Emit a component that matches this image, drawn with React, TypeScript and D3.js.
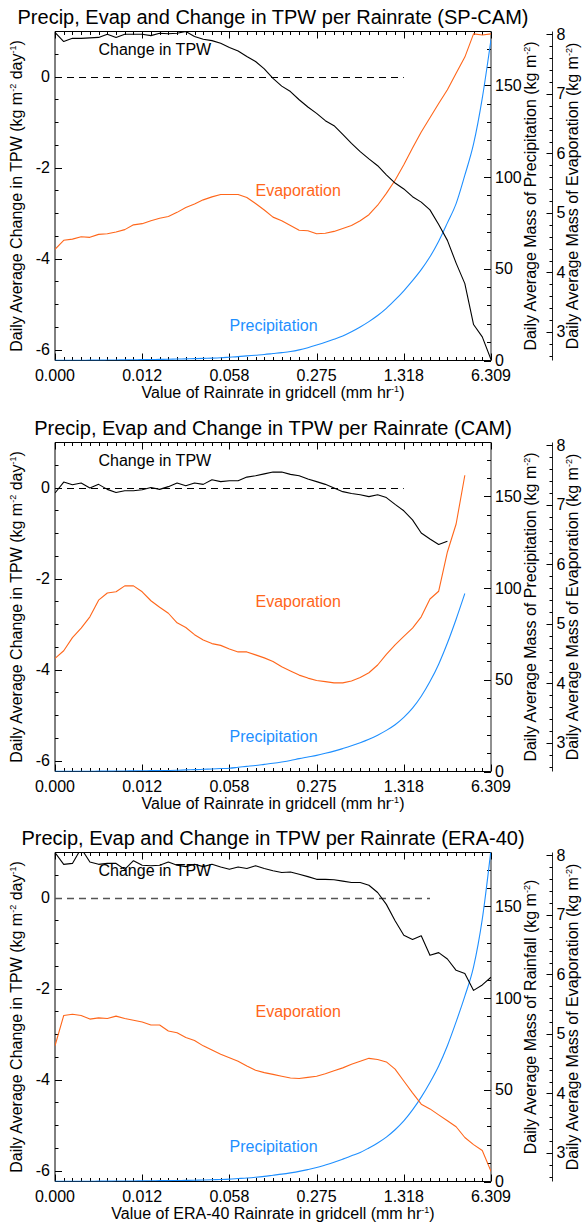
import React from "react";
import * as d3 from "d3";

const W = 583;
const H = 1224;
const FONT = "'Liberation Sans', Arial, Helvetica, sans-serif";
const ORANGE = "#ff661a";
const BLUE = "#1e8fff";

// ---------- data ----------
const xTickLabels = ["0.000", "0.012", "0.058", "0.275", "1.318", "6.309"];
const binCount = 50;
const tpwTicks = [-6, -4, -2, 0];
const precipTicks = [0, 50, 100, 150];
const evapTicks = [3, 4, 5, 6, 7, 8];

const titles = [
  "Precip, Evap and Change in TPW per Rainrate (SP-CAM)",
  "Precip, Evap and Change in TPW per Rainrate (CAM)",
  "Precip, Evap and Change in TPW per Rainrate (ERA-40)",
];
const xTitles = [
  "Value of Rainrate in gridcell (mm hr",
  "Value of Rainrate in gridcell (mm hr",
  "Value of ERA-40 Rainrate in gridcell (mm hr",
];
const precipTitles = [
  "Daily Average Mass of Precipitation (kg m",
  "Daily Average Mass of Precipitation (kg m",
  "Daily Average Mass of Rainfall (kg m",
];
const zeroLineEnd = [40, 40, 43];

const spcamTPW = [0.97, 0.77, 0.84, 0.84, 0.85, 0.86, 0.93, 0.86, 0.93, 0.93,
  0.93, 0.9, 0.95, 0.94, 0.95, 0.99, 0.88, 0.82, 0.79, 0.73,
  0.64, 0.56, 0.44, 0.33, 0.17, -0.04, -0.21, -0.33, -0.51, -0.67,
  -0.81, -0.97, -1.08, -1.27, -1.47, -1.65, -1.81, -1.96, -2.16, -2.34,
  -2.47, -2.64, -2.76, -2.93, -3.25, -3.6, -4.1, -4.55, -5.45, -5.72, -6.22];
const camTPW = [-0.12, 0.12, 0.06, 0.1, -0.01, 0.07, -0.04, -0.11, -0.07, -0.07,
  -0.05, 0.0, -0.04, 0.02, 0.1, 0.04, 0.1, 0.07, 0.17, 0.13,
  0.15, 0.15, 0.23, 0.26, 0.3, 0.34, 0.34, 0.29, 0.26, 0.19,
  0.13, 0.07, -0.01, -0.09, -0.13, -0.16, -0.2, -0.16, -0.22, -0.37,
  -0.51, -0.71, -1.0, -1.13, -1.25, -1.18];
const eraTPW = [0.99, 0.73, 0.75, 1.08, 0.78, 0.73, 0.75, 0.75, 0.62, 0.81,
  0.71, 0.7, 0.71, 0.78, 0.71, 0.68, 0.73, 0.68, 0.73, 0.67,
  0.62, 0.67, 0.64, 0.7, 0.64, 0.59, 0.55, 0.56, 0.51, 0.46,
  0.4, 0.4, 0.39, 0.36, 0.33, 0.33, 0.27, 0.11, -0.15, -0.51,
  -0.83, -0.92, -0.84, -1.27, -1.21, -1.35, -1.6, -1.67, -2.04, -1.92, -1.75];

const spcamEvap = [4.39, 4.54, 4.56, 4.6, 4.59, 4.64, 4.65, 4.68, 4.72, 4.8,
  4.82, 4.87, 4.91, 4.94, 5.01, 5.09, 5.15, 5.22, 5.27, 5.31,
  5.31, 5.31, 5.26, 5.16, 5.05, 4.93, 4.87, 4.79, 4.71, 4.7,
  4.65, 4.66, 4.69, 4.74, 4.79, 4.87, 4.97, 5.13, 5.33, 5.55,
  5.81, 6.09, 6.36, 6.6, 6.84, 7.07, 7.35, 7.62, 8.01, 7.99, 8.01];
const camEvap = [4.42, 4.55, 4.77, 4.93, 5.12, 5.4, 5.52, 5.54, 5.64, 5.64,
  5.54, 5.39, 5.28, 5.18, 5.02, 4.94, 4.82, 4.73, 4.67, 4.64,
  4.58, 4.53, 4.53, 4.48, 4.43, 4.37, 4.28, 4.21, 4.14, 4.09,
  4.05, 4.03, 4.01, 4.01, 4.04, 4.1, 4.18, 4.31, 4.49, 4.65,
  4.79, 4.93, 5.12, 5.42, 5.55, 6.21, 6.68, 7.5];
const eraEvap = [4.8, 5.31, 5.33, 5.31, 5.25, 5.27, 5.26, 5.3, 5.26, 5.23,
  5.2, 5.15, 5.15, 5.05, 5.02, 4.94, 4.89, 4.8, 4.73, 4.66,
  4.6, 4.54, 4.46, 4.39, 4.35, 4.32, 4.29, 4.26, 4.25, 4.27,
  4.29, 4.33, 4.38, 4.43, 4.49, 4.54, 4.59, 4.57, 4.53, 4.41,
  4.21, 4.01, 3.82, 3.74, 3.64, 3.54, 3.44, 3.26, 3.14, 3.04, 2.69];

const spcamPrecip = [0.1, 0.1, 0.15, 0.15, 0.2, 0.2, 0.25, 0.3, 0.35, 0.4,
  0.5, 0.55, 0.6, 0.7, 0.8, 0.9, 1.0, 1.15, 1.3, 1.5,
  1.8, 2.1, 2.5, 2.9, 3.3, 3.8, 4.3, 4.9, 5.8, 7.0,
  8.4, 9.9, 11.6, 13.4, 15.7, 18.3, 21.2, 24.5, 28.4, 33,
  38, 43.5, 49.5, 56.5, 65, 75, 85.5, 101, 118, 143, 175];
const camPrecip = [0.1, 0.1, 0.1, 0.15, 0.15, 0.2, 0.2, 0.25, 0.3, 0.35,
  0.4, 0.45, 0.5, 0.55, 0.65, 0.9, 1.0, 1.2, 1.4, 1.6,
  1.8, 2.3, 2.8, 3.3, 3.9, 4.5, 5.2, 6.0, 7.0, 7.9,
  8.8, 9.9, 11.1, 12.5, 14.0, 15.7, 17.6, 19.8, 22.4, 25.5,
  29.5, 34.5, 41, 49, 58.5, 70, 83, 97];
const eraPrecip = [0.1, 0.1, 0.1, 0.15, 0.15, 0.2, 0.2, 0.25, 0.25, 0.3,
  0.35, 0.4, 0.45, 0.5, 0.55, 0.6, 0.7, 0.8, 0.95, 1.1,
  1.3, 1.6, 1.9, 2.3, 2.8, 3.4, 4.0, 4.7, 5.5, 6.5,
  7.6, 9.0, 10.5, 12.2, 14.0, 15.8, 18.3, 21, 24.2, 28.2,
  33, 39, 46, 54, 63, 74, 87, 101, 117, 143, 181];

const tpwSeries = [spcamTPW, camTPW, eraTPW];
const evapSeries = [spcamEvap, camEvap, eraEvap];
const precipSeries = [spcamPrecip, camPrecip, eraPrecip];
const panelOffsets = [0, 411, 821];

// ---------- layout ----------
const L = 55, R = 491, T = 31.5, B = 360.5;
const EVAP_AXIS_X = 552.5;

const x = d3.scaleLinear().domain([0, binCount]).range([L, R]);
const yTPW = d3.scaleLinear().domain([-6.24, 0.99]).range([B, T]);
const yPrecip = d3.scaleLinear().domain([0, 179.3]).range([B, T]);
const yEvap = d3.scaleLinear().domain([2.52, 8.05]).range([B, T]);

function linePath(vals: number[], y: d3.ScaleLinear<number, number>, smooth = false) {
  const gen = d3.line<number>().x((_, i) => x(i)).y((v) => y(v));
  if (smooth) gen.curve(d3.curveMonotoneX);
  return gen(vals) || "";
}

function Panel({ idx }: { idx: number }) {
  const off = panelOffsets[idx];
  const clipId = `clip${idx}`;
  const xMinor = d3.range(0, binCount + 1);
  const tpwMinor = d3.range(-6, 1.01, 0.5).filter((v) => yTPW(v) >= T && yTPW(v) <= B);
  const precipMinor = d3.range(0, 179, 10);
  const evapMinor = d3.range(26, 81, 2).map((v) => v / 10);
  const fs = 16;
  const cy = (T + B) / 2;
  const cx = (L + R) / 2;
  const ticks: React.ReactNode[] = [];
  xMinor.forEach((i) => {
    const len = i % 10 === 0 ? 7 : 3.5;
    const px = Math.round(x(i)) + 0.5;
    ticks.push(<line key={`xb${i}`} x1={px} x2={px} y1={B} y2={B - len} />);
    ticks.push(<line key={`xt${i}`} x1={px} x2={px} y1={T} y2={T + len} />);
  });
  tpwMinor.forEach((v) => {
    const major = Math.abs(v % 2) < 1e-6;
    const py = Math.round(yTPW(v)) + 0.5;
    ticks.push(<line key={`yl${v}`} x1={L} x2={L + (major ? 7 : 3.5)} y1={py} y2={py} />);
  });
  precipMinor.forEach((v) => {
    const major = v % 50 === 0;
    const py = Math.round(yPrecip(v)) + 0.5;
    ticks.push(<line key={`yp${v}`} x1={R} x2={R - (major ? 7 : 4)} y1={py} y2={py} />);
  });
  evapMinor.forEach((v) => {
    const major = Math.abs(v - Math.round(v)) < 1e-6;
    const py = Math.round(yEvap(v)) + 0.5;
    ticks.push(<line key={`ye${v}`} x1={EVAP_AXIS_X} x2={EVAP_AXIS_X - (major ? 6 : 3)} y1={py} y2={py} />);
  });

  return (
    <g transform={`translate(0,${off})`} fontFamily={FONT}>
      <defs>
        <clipPath id={clipId}>
          <rect x={L} y={T} width={R - L} height={B - T} />
        </clipPath>
      </defs>
      <text x={cx} y={23.5} textAnchor="middle" fontSize={20} fill="#000">{titles[idx]}</text>

      {/* frame */}
      <g stroke="#000" strokeWidth={1} fill="none">
        <line x1={L} x2={R} y1={T} y2={T} />
        <line x1={L} x2={R} y1={B} y2={B} />
        <line x1={L} x2={L} y1={T} y2={B} />
        <line x1={R} x2={R} y1={T} y2={B} stroke="#222" />
        <line x1={EVAP_AXIS_X} x2={EVAP_AXIS_X} y1={T} y2={B} stroke="#222" />
        {ticks}
      </g>

      {/* zero dashed line */}
      <line x1={x(0)} x2={x(zeroLineEnd[idx])} y1={Math.round(yTPW(0)) + 0.5} y2={Math.round(yTPW(0)) + 0.5}
        stroke={idx === 2 ? "#555" : "#000"} strokeWidth={idx === 2 ? 1.5 : 1} strokeDasharray="7,5" />

      <g clipPath={`url(#${clipId})`} fill="none" strokeWidth={1.1} strokeLinejoin="round">
        <path d={linePath(precipSeries[idx], yPrecip, true)} stroke={BLUE} />
        <path d={linePath(evapSeries[idx], yEvap)} stroke={ORANGE} />
        <path d={linePath(tpwSeries[idx], yTPW)} stroke="#000" />
      </g>

      {/* in-plot labels */}
      <text x={98.5} y={55} fontSize={fs} fill="#000">Change in TPW</text>
      <text x={255.5} y={195.5} fontSize={fs} fill={ORANGE}>Evaporation</text>
      <text x={229.5} y={330.5} fontSize={fs} fill={BLUE}>Precipitation</text>

      {/* x tick labels */}
      {xTickLabels.map((lab, k) => (
        <text key={lab} x={x(k * 10)} y={B + 20.5} textAnchor="middle" fontSize={fs}>{lab}</text>
      ))}
      <text x={cx} y={B + 37.5} textAnchor="middle" fontSize={fs}>
        {xTitles[idx]}
        <tspan dy={-6} fontSize={9}>-1</tspan>
        <tspan dy={6}>)</tspan>
      </text>

      {/* left axis labels */}
      {tpwTicks.map((v) => (
        <text key={v} x={L - 5} y={yTPW(v) + 5.5} textAnchor="end" fontSize={fs}>{v === 0 ? "0" : `-${Math.abs(v)}`}</text>
      ))}
      <text transform={`translate(22,${cy}) rotate(-90)`} textAnchor="middle" fontSize={fs}>
        Daily Average Change in TPW (kg m
        <tspan dy={-6} fontSize={9}>-2</tspan>
        <tspan dy={6}> day</tspan>
        <tspan dy={-6} fontSize={9}>-1</tspan>
        <tspan dy={6}>)</tspan>
      </text>

      {/* precip axis labels */}
      {precipTicks.map((v) => (
        <text key={v} x={R + 4} y={yPrecip(v) + 5.5} textAnchor="start" fontSize={fs}>{v}</text>
      ))}
      <text transform={`translate(536,${cy}) rotate(-90)`} textAnchor="middle" fontSize={fs}>
        {precipTitles[idx]}
        <tspan dy={-6} fontSize={9}>-2</tspan>
        <tspan dy={6}>)</tspan>
      </text>

      {/* evap axis labels */}
      {evapTicks.map((v) => (
        <text key={v} x={EVAP_AXIS_X + 4} y={yEvap(v) + 5.5} textAnchor="start" fontSize={fs}>{v}</text>
      ))}
      <text transform={`translate(578,${cy}) rotate(-90)`} textAnchor="middle" fontSize={fs}>
        Daily Average Mass of Evaporation (kg m
        <tspan dy={-6} fontSize={9}>-2</tspan>
        <tspan dy={6}>)</tspan>
      </text>
    </g>
  );
}

export default function App() {
  return (
    <svg width={W} height={H} viewBox={`0 0 ${W} ${H}`}
      style={{ position: "absolute", left: 0, top: 0, background: "#fff" }}>
      <rect x={0} y={0} width={W} height={H} fill="#fff" />
      {[0, 1, 2].map((i) => <Panel key={i} idx={i} />)}
    </svg>
  );
}
